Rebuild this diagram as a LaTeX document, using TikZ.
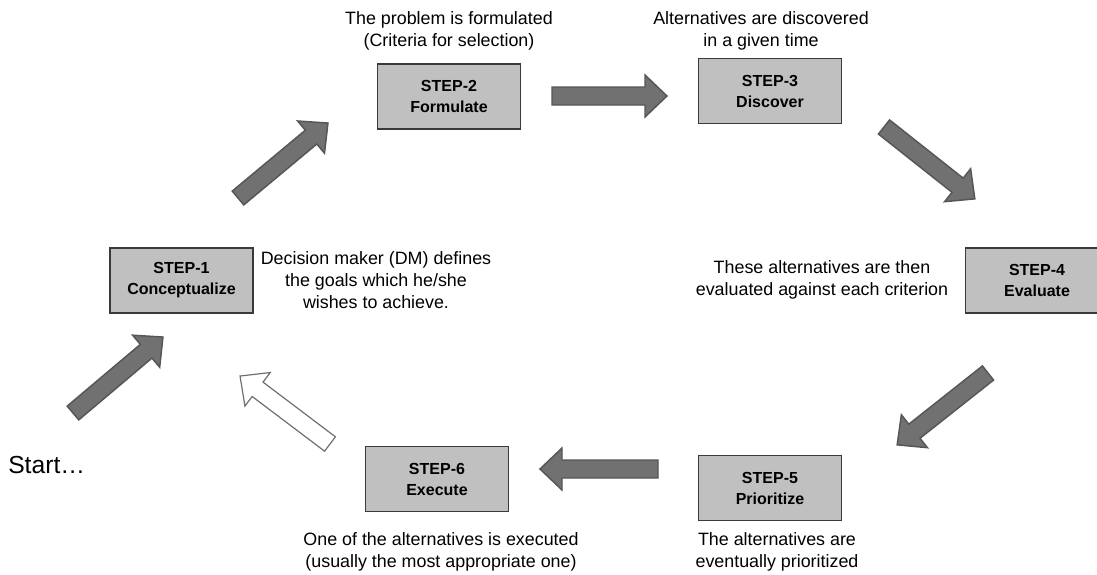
\documentclass[tikz,border=0pt]{standalone}
\usepackage{fontspec}
\setmainfont{Liberation Sans}
\usetikzlibrary{calc}

\definecolor{boxfill}{HTML}{C0C0C0}
\definecolor{boxline}{HTML}{3A3A3A}
\definecolor{arrowfill}{HTML}{717171}
\definecolor{arrowline}{HTML}{565656}

% Block arrow from a tail coordinate to a tip coordinate
\newcommand\blockarrow[3][]{%
  \path let \p1=($(#3)-(#2)$) in
    \pgfextra{\pgfmathsetmacro\baang{atan2(\y1,\x1)}%
              \pgfmathsetmacro\balen{veclen(\x1,\y1)}%
              \pgfmathsetmacro\baneck{\balen-16.5}%
              \xdef\baang{\baang}\xdef\balen{\balen}\xdef\baneck{\baneck}};
  \begin{scope}[shift={(#2)}, rotate=\baang]
    \draw[#1] (0pt,-6.75pt) -- (\baneck pt,-6.75pt) -- (\baneck pt,-15.75pt)
      -- (\balen pt,0pt) -- (\baneck pt,15.75pt) -- (\baneck pt,6.75pt)
      -- (0pt,6.75pt) -- cycle;
  \end{scope}}

\tikzset{
  stepbox/.style={draw=boxline, fill=boxfill, line width=1.1pt,
    minimum width=107.25pt, minimum height=48.75pt, inner sep=0pt,
    align=center, font=\fontsize{12}{15.75}\selectfont\bfseries},
  caption/.style={inner sep=0pt, align=center,
    font=\fontsize{13.4}{16.5}\selectfont},
  solidarrow/.style={fill=arrowfill, draw=arrowline, line width=1.1pt, line join=miter},
  hollowarrow/.style={fill=white, draw=arrowline!85, line width=0.9pt, line join=miter},
}

\begin{document}
\begin{tikzpicture}[x=0.75pt, y=-0.75pt]
  \useasboundingbox (0,0) rectangle (1097,575);
  \clip (0,0) rectangle (1097,575);

  % step boxes
  \node[stepbox] (s1) at (181.5,280.5) {STEP-1\\Conceptualize};
  \node[stepbox] (s2) at (449,96.5) {STEP-2\\Formulate};
  \node[stepbox] (s3) at (770,91) {STEP-3\\Discover};
  \node[stepbox] (s4) at (1037,280.5) {STEP-4\\Evaluate};
  \node[stepbox] (s5) at (770,488) {STEP-5\\Prioritize};
  \node[stepbox] (s6) at (437,479) {STEP-6\\Execute};

  % descriptions
  \node[caption] (c1) at (376,280) {Decision maker (DM) defines\\the goals which he/she\\wishes to achieve.};
  \node[caption] (c2) at (449,30.5) {The problem is formulated\\(Criteria for selection)};
  \node[caption] (c3) at (761,30.5) {Alternatives are discovered\\in a given time};
  \node[caption] (c4) at (822,279.5) {These alternatives are then\\evaluated against each criterion};
  \node[caption] (c5) at (777,552) {The alternatives are\\eventually prioritized};
  \node[caption] (c6) at (441,552) {One of the alternatives is executed\\(usually the most appropriate one)};
  \node[inner sep=0pt, anchor=west, font=\fontsize{18.5}{22}\selectfont] (start) at (8,465) {Start\ldots};

  % arrow end points
  \coordinate (a0t) at (73,413);  \coordinate (a0h) at (163,337);
  \coordinate (a1t) at (238,198); \coordinate (a1h) at (328,123);
  \coordinate (a2t) at (552,96);  \coordinate (a2h) at (667,96);
  \coordinate (a3t) at (884,127); \coordinate (a3h) at (975,199);
  \coordinate (a4t) at (988,373); \coordinate (a4h) at (897,445);
  \coordinate (a5t) at (658,469); \coordinate (a5h) at (540,469);
  \coordinate (a6t) at (330,444); \coordinate (a6h) at (240,376);

  % block arrows
  \blockarrow[solidarrow]{a0t}{a0h}
  \blockarrow[solidarrow]{a1t}{a1h}
  \blockarrow[solidarrow]{a2t}{a2h}
  \blockarrow[solidarrow]{a3t}{a3h}
  \blockarrow[solidarrow]{a4t}{a4h}
  \blockarrow[solidarrow]{a5t}{a5h}
  \blockarrow[hollowarrow]{a6t}{a6h}
\end{tikzpicture}
\end{document}
